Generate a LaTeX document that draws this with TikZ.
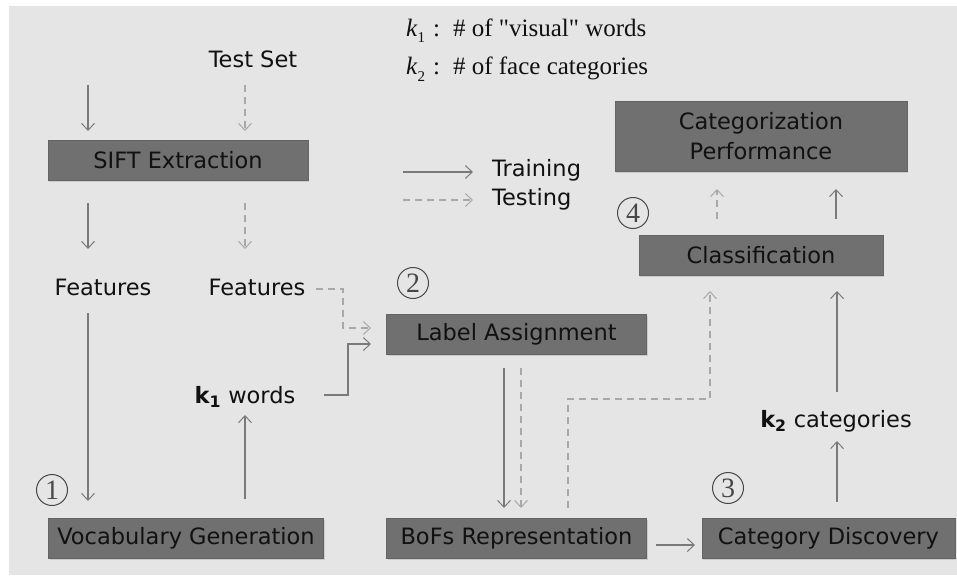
\documentclass[tikz,border=0pt]{standalone}
\usepackage{fontspec}
\setmainfont{DejaVu Sans}
\newfontfamily\serifA{Liberation Serif}
\usetikzlibrary{arrows.meta,shadows}
\definecolor{bgc}{HTML}{E5E5E5}
\definecolor{boxc}{HTML}{707070}
\definecolor{boxb}{HTML}{646464}
\definecolor{solidc}{HTML}{7A7A7A}
\definecolor{dashc}{HTML}{A8A8A8}
\definecolor{txtc}{HTML}{111111}
\begin{document}
\begin{tikzpicture}[x=1pt,y=-1pt,
  box/.style={fill=boxc,draw=boxb,line width=0.8pt,inner sep=0pt,
    font=\fontsize{22.5}{30}\selectfont,text=txtc,align=center,
    drop shadow={shadow xshift=1.2pt,shadow yshift=-1.5pt,opacity=0.25}},
  lbl/.style={font=\fontsize{22.5}{26}\selectfont,text=txtc,inner sep=0pt},
  leg/.style={font=\serifA\fontsize{25}{28}\selectfont,text=txtc,inner sep=0pt,anchor=base west},
  num/.style={circle,draw=black!72,line width=1pt,minimum size=31pt,inner sep=0pt,
    font=\serifA\fontsize{28}{28}\selectfont,text=black!72},
  tip/.style={-{Straight Barb[length=7pt,width=13pt,line width=1pt]}},
  train/.style={draw=solidc,line width=1.1pt,tip},
  test/.style={draw=dashc,line width=1.1pt,dash pattern=on 7pt off 5pt,tip}
]
\fill[white] (0,0) rectangle (957,575);
\fill[bgc] (9,6) rectangle (957,575);
\useasboundingbox (0,0) rectangle (957,575);

% legend (top)
\node[leg] (legA) at (406,37) {\textit{k}\raisebox{-6pt}{\fontsize{15}{15}\selectfont 1}\kern8pt:\kern13pt\# of "visual" words};
\node[leg] (legB) at (406,75) {\textit{k}\raisebox{-6pt}{\fontsize{15}{15}\selectfont 2}\kern8pt:\kern13pt\# of face categories};

% boxes
\node[box,minimum width=260pt,minimum height=40pt] (sift) at (178,160) {SIFT Extraction};
\node[box,minimum width=275pt,minimum height=40pt] (vocab) at (186,538) {Vocabulary Generation};
\node[box,minimum width=260pt,minimum height=40pt] (label) at (516.5,334) {Label Assignment};
\node[box,minimum width=260pt,minimum height=40pt] (bofs) at (516.5,538) {BoFs Representation};
\node[box,minimum width=253pt,minimum height=40pt] (catdisc) at (828.5,538) {Category Discovery};
\node[box,minimum width=244pt,minimum height=40pt] (classif) at (761,255) {Classification};
\node[box,minimum width=292pt,minimum height=70pt] (catperf) at (761,136) {Categorization\\Performance};

% labels
\node[lbl] (testset) at (253,59) {Test Set};
\node[lbl] (featA) at (103,287) {Features};
\node[lbl] (featB) at (257,287) {Features};
\node[lbl] (kwords) at (245,397) {\textbf{k\textsubscript{1}} words};
\node[lbl] (kcat) at (836,421) {\textbf{k\textsubscript{2}} categories};
\node[lbl,anchor=west] (ltrain) at (492,170) {Training};
\node[lbl,anchor=west] (ltest) at (492,199) {Testing};

% step numbers
\node[num] (n1) at (52,490) {1};
\node[num] (n2) at (413,283) {2};
\node[num] (n3) at (728,488) {3};
\node[num] (n4) at (633,213) {4};

% coordinates for connector ends
\coordinate (trIn) at (88,85);
\coordinate (trInE) at (88,131);
\coordinate (teInS) at (245,85);
\coordinate (teInE) at (245,131);
\coordinate (s1a) at (88,203);
\coordinate (s1b) at (88,249);
\coordinate (s2a) at (245,203);
\coordinate (s2b) at (245,249);
\coordinate (fA1) at (88,313);
\coordinate (fA2) at (88,501);
\coordinate (vU1) at (245,499);
\coordinate (vU2) at (245,415);
\coordinate (fB1) at (316,289);
\coordinate (fB2) at (343,289);
\coordinate (fB3) at (343,328);
\coordinate (fB4) at (371,328);
\coordinate (kw1) at (324,395);
\coordinate (kw2) at (348,395);
\coordinate (kw3) at (348,344);
\coordinate (kw4) at (371,344);
\coordinate (la1) at (504,368);
\coordinate (la2) at (504,508);
\coordinate (lb1) at (521,368);
\coordinate (lb2) at (521,508);
\coordinate (bf1) at (568,508);
\coordinate (bf2) at (568,399);
\coordinate (bf3) at (710,399);
\coordinate (bf4) at (710,291);
\coordinate (bc1) at (656,545);
\coordinate (bc2) at (695,545);
\coordinate (cd1) at (837,502);
\coordinate (cd2) at (837,441);
\coordinate (kc1) at (837,392);
\coordinate (kc2) at (837,291);
\coordinate (cl1) at (717,219);
\coordinate (cl2) at (717,189);
\coordinate (cl3) at (836,219);
\coordinate (cl4) at (836,189);
\coordinate (lg1) at (403,172);
\coordinate (lg2) at (473,172);
\coordinate (lg3) at (403,200);
\coordinate (lg4) at (473,200);

% connectors
\draw[train] (trIn) -- (trInE);
\draw[test] (teInS) -- (teInE);
\draw[train] (s1a) -- (s1b);
\draw[test] (s2a) -- (s2b);
\draw[train] (fA1) -- (fA2);
\draw[train] (vU1) -- (vU2);
\draw[test] (fB1) -- (fB2) -- (fB3) -- (fB4);
\draw[train] (kw1) -- (kw2) -- (kw3) -- (kw4);
\draw[train] (la1) -- (la2);
\draw[test] (lb1) -- (lb2);
\draw[test] (bf1) -- (bf2) -- (bf3) -- (bf4);
\draw[train] (bc1) -- (bc2);
\draw[train] (cd1) -- (cd2);
\draw[train] (kc1) -- (kc2);
\draw[test] (cl1) -- (cl2);
\draw[train] (cl3) -- (cl4);
\draw[train] (lg1) -- (lg2);
\draw[test] (lg3) -- (lg4);
\end{tikzpicture}
\end{document}
